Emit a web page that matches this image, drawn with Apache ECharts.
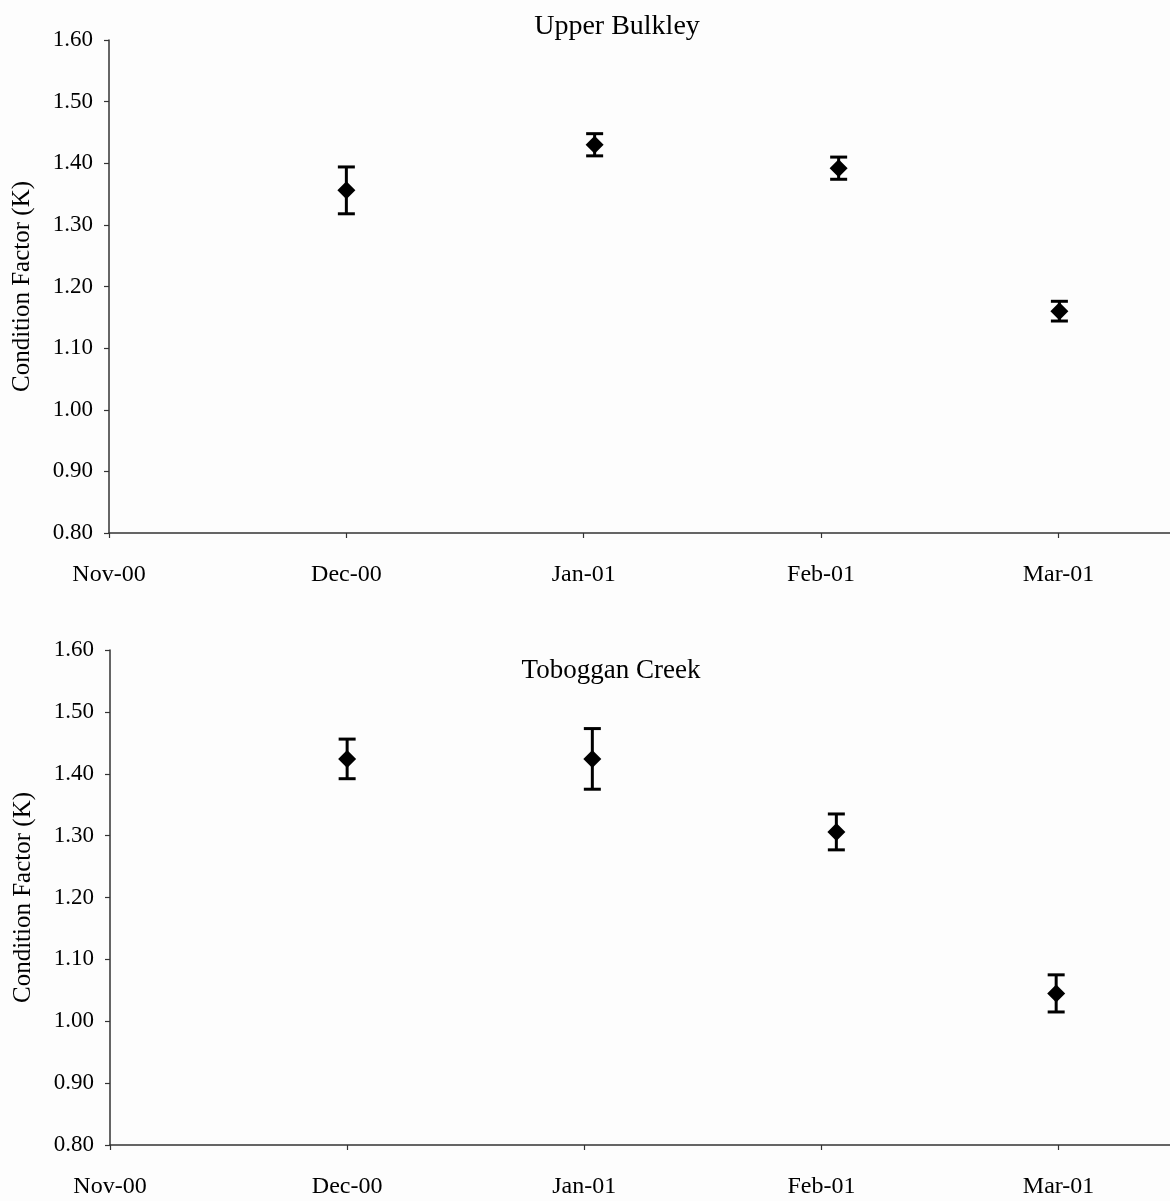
<!DOCTYPE html>
<html>
<head>
<meta charset="utf-8">
<script src="https://cdn.jsdelivr.net/npm/echarts@6/dist/echarts.min.js"></script>
<style>
html,body{margin:0;padding:0;background:#fdfdfd;}
#chart{width:1170px;height:1201px;}
</style>
</head>
<body>
<div id="chart"></div>
<script>
// Tick labels for the month axis (positions 0..4)
const monthLabels = ['Nov-00', 'Dec-00', 'Jan-01', 'Feb-01', 'Mar-01'];

// Upper Bulkley: x position in months since Nov-00, mean K, error half-width
const ubX = [1.0, 2.046, 3.074, 4.004];
const ubMean = [1.356, 1.430, 1.392, 1.160];
const ubErr = [0.038, 0.018, 0.018, 0.016];

// Toboggan Creek
const tcX = [1.0, 2.034, 3.063, 3.99];
const tcMean = [1.424, 1.424, 1.306, 1.045];
const tcErr = [0.032, 0.049, 0.029, 0.030];

const yTicks = { min: 0.8, max: 1.6, interval: 0.1 };

const FONT = '"Liberation Serif", "Times New Roman", serif';
const INK = '#000';

function pts(xs, ys) { return xs.map((x, i) => [x, ys[i]]); }
function errData(xs, ys, es) { return xs.map((x, i) => [x, ys[i] - es[i], ys[i] + es[i]]); }

function errSeries(idx, data) {
  return {
    type: 'custom',
    xAxisIndex: idx, yAxisIndex: idx,
    data: data,
    z: 2,
    renderItem: function (params, api) {
      const x = api.value(0);
      const lo = api.coord([x, api.value(1)]);
      const hi = api.coord([x, api.value(2)]);
      const hw = 8.5;
      const st = { stroke: INK, lineWidth: 3 };
      return {
        type: 'group',
        children: [
          { type: 'line', shape: { x1: lo[0], y1: lo[1], x2: hi[0], y2: hi[1] }, style: st },
          { type: 'line', shape: { x1: lo[0] - hw, y1: lo[1], x2: lo[0] + hw, y2: lo[1] }, style: st },
          { type: 'line', shape: { x1: hi[0] - hw, y1: hi[1], x2: hi[0] + hw, y2: hi[1] }, style: st }
        ]
      };
    }
  };
}

function xAxis(idx) {
  return {
    type: 'value', gridIndex: idx, min: 0, max: 4.47, interval: 1,
    splitLine: { show: false },
    axisLine: { lineStyle: { color: '#333', width: 1.5 } },
    axisTick: { show: true, length: 5, lineStyle: { color: '#333', width: 1.2 } },
    axisLabel: {
      margin: 30, color: INK, fontFamily: FONT, fontSize: 24, showMaxLabel: false,
      formatter: function (v) {
        const r = Math.round(v);
        return Math.abs(v - r) < 1e-6 && monthLabels[r] !== undefined ? monthLabels[r] : '';
      }
    }
  };
}

function yAxis(idx) {
  return {
    type: 'value', gridIndex: idx, min: yTicks.min, max: yTicks.max, interval: yTicks.interval,
    name: 'Condition Factor (K)', nameLocation: 'middle', nameGap: 74,
    nameTextStyle: { color: INK, fontFamily: FONT, fontSize: 25 },
    splitLine: { show: false },
    axisLine: { show: true, lineStyle: { color: '#333', width: 1.5 } },
    axisTick: { show: true, length: 5, lineStyle: { color: '#333', width: 1.2 } },
    axisLabel: {
      margin: 16, color: INK, fontFamily: FONT, fontSize: 23,
      formatter: function (v) { return v.toFixed(2); }
    }
  };
}

const chart = echarts.init(document.getElementById('chart'), null, { renderer: 'canvas' });
chart.setOption({
  backgroundColor: '#fdfdfd',
  animation: false,
  title: [
    { text: 'Upper Bulkley', left: 612, top: 8, textAlign: 'center',
      textStyle: { fontFamily: FONT, fontSize: 28, fontWeight: 'normal', color: INK } },
    { text: 'Toboggan Creek', left: 606, top: 652, textAlign: 'center',
      textStyle: { fontFamily: FONT, fontSize: 27, fontWeight: 'normal', color: INK } }
  ],
  grid: [
    { left: 109, right: 0, top: 40, height: 493 },
    { left: 110, right: 0, top: 650, height: 495 }
  ],
  xAxis: [xAxis(0), xAxis(1)],
  yAxis: [yAxis(0), yAxis(1)],
  series: [
    errSeries(0, errData(ubX, ubMean, ubErr)),
    { type: 'scatter', xAxisIndex: 0, yAxisIndex: 0, data: pts(ubX, ubMean),
      symbol: 'diamond', symbolSize: [18, 18], itemStyle: { color: INK, opacity: 1 }, z: 3 },
    errSeries(1, errData(tcX, tcMean, tcErr)),
    { type: 'scatter', xAxisIndex: 1, yAxisIndex: 1, data: pts(tcX, tcMean),
      symbol: 'diamond', symbolSize: [18, 18], itemStyle: { color: INK, opacity: 1 }, z: 3 }
  ]
});
</script>
</body>
</html>
